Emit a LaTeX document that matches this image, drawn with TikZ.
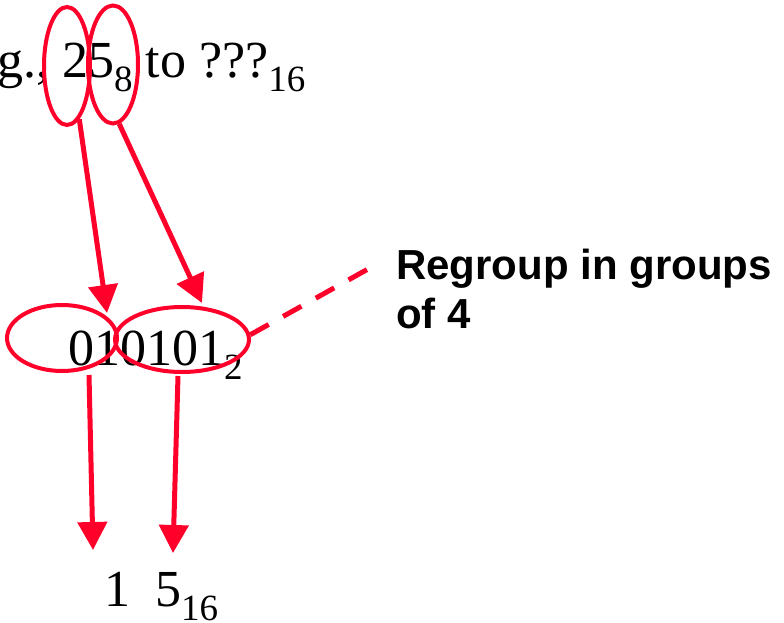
\documentclass[tikz,border=0pt]{standalone}
\usepackage{fontspec}
\setmainfont{Liberation Serif}
\newfontfamily\calloutfont{Liberation Sans}
\usetikzlibrary{shapes.geometric,arrows.meta}
\definecolor{mark}{RGB}{255,0,43}
\newcommand{\sbs}[1]{\raisebox{-14pt}{\fontsize{37}{37}\selectfont #1}}
\tikzset{
  ell/.style={draw=mark, line width=4pt, ellipse, inner sep=0pt},
  arr/.style={draw=mark, line width=5pt, -{Triangle[width=29pt,length=28pt]}},
  dashlink/.style={draw=mark, line width=5pt, dash pattern=on 21pt off 16.5pt},
  big/.style={inner sep=0pt, font=\fontsize{52}{52}\selectfont},
  callout/.style={inner sep=0pt, align=left, font=\calloutfont\bfseries\fontsize{42}{49}\selectfont}
}
\begin{document}
\begin{tikzpicture}[x=1pt,y=-1pt]
\useasboundingbox (0,0) rectangle (784,623);
% text
\node[big, anchor=base west] (top) at (-3,78) {g., 25\sbs{8} to ???\sbs{16}};
\node[big, anchor=base west] (bin) at (68,365) {010101\sbs{2}};
\node[big, anchor=base west] (one) at (104,606) {1};
\node[big, anchor=base west] (five) at (155,606) {5\sbs{16}};
\node[callout, anchor=base west] (note) at (396,328) {Regroup in groups\\of 4};
% ellipses
\node[ell, minimum width=46pt, minimum height=118pt] (e1) at (67,66) {};
\node[ell, minimum width=50pt, minimum height=118pt] (e2) at (113,64.5) {};
\node[ell, minimum width=110pt, minimum height=66pt] (e3) at (62,338) {};
\node[ell, minimum width=134pt, minimum height=65pt] (e4) at (182,339.5) {};
% arrow tips
\coordinate (t1) at (107,313);
\coordinate (t2) at (202,303);
\coordinate (t3) at (93,550);
\coordinate (t4) at (173,553);
\coordinate (s3) at (89,375);
\coordinate (s4) at (178,376);
\coordinate (d1) at (377,264);
% connectors
\draw[arr] (e1.-77) -- (t1);
\draw[arr] (e2.-84) -- (t2);
\draw[arr] (s3) -- (t3);
\draw[arr] (s4) -- (t4);
\draw[dashlink] (e4.4) -- (d1);
\end{tikzpicture}
\end{document}
